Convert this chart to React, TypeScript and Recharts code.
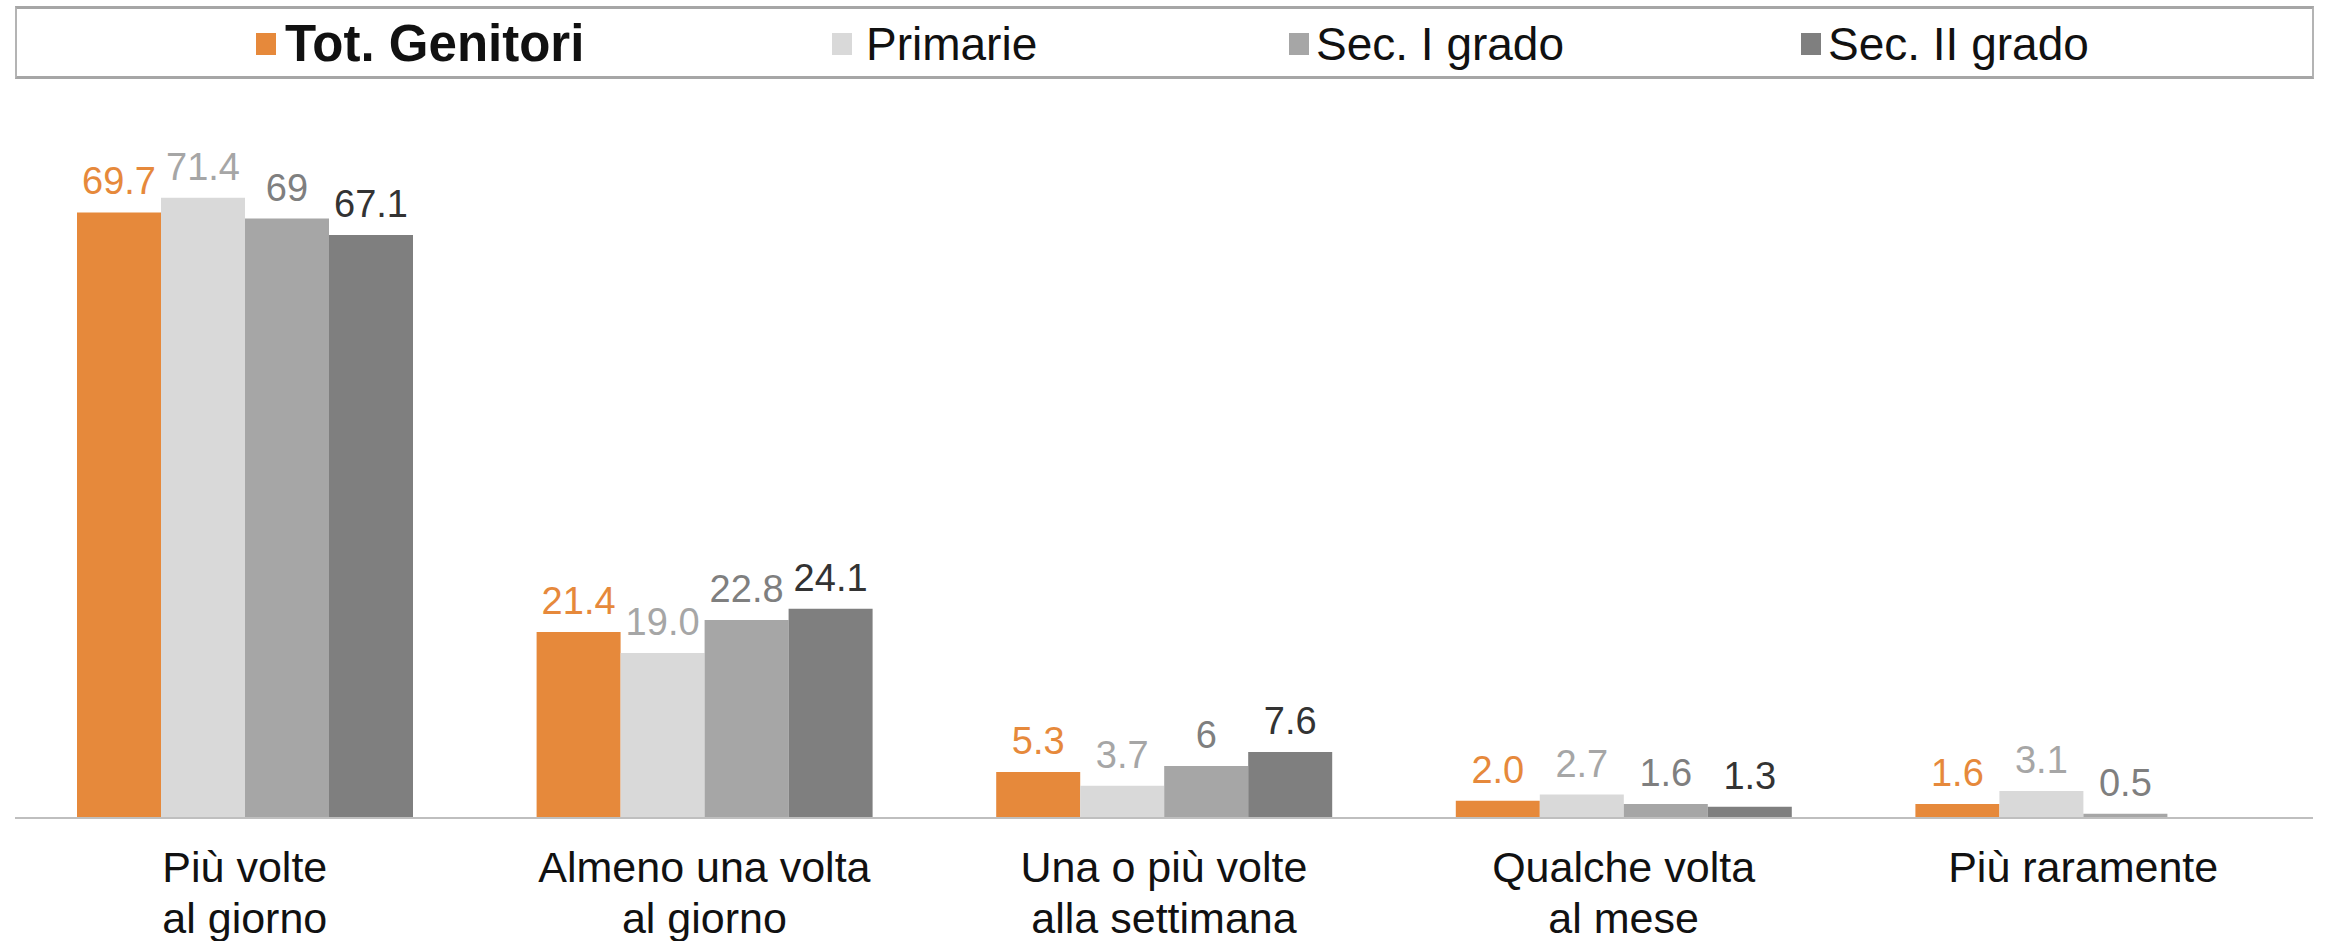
import { BarChart, Bar, XAxis, YAxis, LabelList } from 'recharts';

const categories = [
  'Più volte\nal giorno',
  'Almeno una volta\nal giorno',
  'Una o più volte\nalla settimana',
  'Qualche volta\nal mese',
  'Più raramente',
];

const totGenitori = [69.7, 21.4, 5.3, 2.0, 1.6];
const primarie = [71.4, 19.0, 3.7, 2.7, 3.1];
const secPrimo = [69, 22.8, 6, 1.6, 0.5];
const secSecondo = [67.1, 24.1, 7.6, 1.3, null];

// labels as printed in the source (decimals are not uniform)
const totLabels = ['69.7', '21.4', '5.3', '2.0', '1.6'];
const primLabels = ['71.4', '19.0', '3.7', '2.7', '3.1'];
const sec1Labels = ['69', '22.8', '6', '1.6', '0.5'];
const sec2Labels = ['67.1', '24.1', '7.6', '1.3', ''];

const FONT = '"Liberation Sans", Arial, sans-serif';

const SERIES = [
  { key: 'tot', name: 'Tot. Genitori', fill: '#E6893B', label: '#E6893B', bold: true },
  { key: 'prim', name: 'Primarie', fill: '#D9D9D9', label: '#A6A6A6', bold: false },
  { key: 'sec1', name: 'Sec. I grado', fill: '#A6A6A6', label: '#7F7F7F', bold: false },
  { key: 'sec2', name: 'Sec. II grado', fill: '#7F7F7F', label: '#333333', bold: false },
];

const data = categories.map((cat, i) => ({
  cat,
  tot: totGenitori[i],
  prim: primarie[i],
  sec1: secPrimo[i],
  sec2: secSecondo[i],
  totL: totLabels[i],
  primL: primLabels[i],
  sec1L: sec1Labels[i],
  sec2L: sec2Labels[i],
}));

function CategoryTick(props: any) {
  const { x, y, payload } = props;
  const lines = String(payload.value).split('\n');
  return (
    <text x={x} y={y} textAnchor="middle" fill="#111" fontSize={43} fontFamily={FONT}>
      {lines.map((ln, i) => (
        <tspan key={i} x={x} dy={i === 0 ? 56 : 51}>
          {ln}
        </tspan>
      ))}
    </text>
  );
}

const legendPos = [
  { icon: 256, text: 285 },
  { icon: 832, text: 866 },
  { icon: 1289, text: 1316 },
  { icon: 1801, text: 1828 },
];

function LegendBox() {
  return (
    <div
      style={{
        position: 'absolute',
        left: 15,
        top: 6,
        width: 2299,
        height: 73,
        boxSizing: 'border-box',
        borderTop: '3px solid #A6A6A6',
        borderBottom: '3px solid #A6A6A6',
        borderLeft: '2px solid #B4B4B4',
        borderRight: '2px solid #B4B4B4',
        background: '#fff',
      }}
    >
      {SERIES.map((s, i) => (
        <div key={s.key}>
          <div
            style={{
              position: 'absolute',
              left: legendPos[i].icon - 17,
              top: 24,
              width: 20,
              height: 22,
              background: s.fill,
            }}
          />
          <div
            style={{
              position: 'absolute',
              left: legendPos[i].text - 17,
              top: 8,
              fontFamily: FONT,
              fontSize: s.bold ? 51 : 46,
              fontWeight: s.bold ? 700 : 400,
              color: '#111',
              lineHeight: '54px',
              whiteSpace: 'nowrap',
            }}
          >
            {s.name}
          </div>
        </div>
      ))}
    </div>
  );
}

export default function App() {
  return (
    <div style={{ position: 'absolute', left: 0, top: 0, width: 2329, height: 941, background: '#fff' }}>
      <BarChart
        width={2329}
        height={941}
        data={data}
        margin={{ top: 123, right: 16, bottom: 0, left: 15 }}
        barGap={0}
        barCategoryGap={62}
      >
        <XAxis
          dataKey="cat"
          interval={0}
          height={123}
          tickLine={false}
          axisLine={{ stroke: '#BFBFBF', strokeWidth: 2 }}
          tick={<CategoryTick />}
        />
        <YAxis hide domain={[0, 80]} />
        {SERIES.map((s) => (
          <Bar key={s.key} dataKey={s.key} fill={s.fill} isAnimationActive={false}>
            <LabelList
              dataKey={s.key + 'L'}
              position="top"
              offset={18}
              fill={s.label}
              fontSize={38}
              fontFamily={FONT}
            />
          </Bar>
        ))}
      </BarChart>
      <LegendBox />
    </div>
  );
}
